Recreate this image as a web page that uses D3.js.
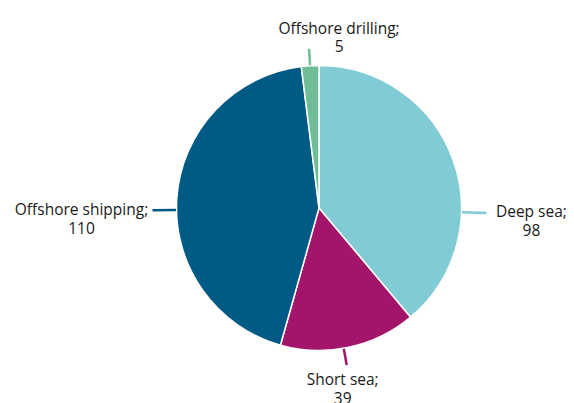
<!DOCTYPE html>
<html>
<head>
<meta charset="utf-8">
<script src="https://cdn.jsdelivr.net/npm/d3@7"></script>
<style>
  html, body { margin: 0; padding: 0; background: #fff; }
  svg { display: block; }
  text { font-family: "Open Sans", "Noto Sans", sans-serif; fill: #1a1a1a; }
</style>
</head>
<body>
<svg id="chart" width="574" height="403"></svg>
<script>
// Segments of the fleet, clockwise from 12 o'clock
const categories = ["Deep sea", "Short sea", "Offshore shipping", "Offshore drilling"];
const values = [98, 39, 110, 5];
const colors = ["#80CBD4", "#A3156B", "#005A86", "#6FBD96"];

// Label layout: angle (degrees from top) where the leader leaves the pie,
// leader length, and text offset from the leader end.
const labelAngle = [91.7, 170, 269.2, null];
const leaderLen = [25, 17, 24, 17];
const labelDx = [45, -4, -71, 30];
const labelDy = [4.5, 20, 5, -15];

const width = 574, height = 403;
const cx = 319, cy = 208, radius = 142.5;

const svg = d3.select("#chart");
const g = svg.append("g").attr("transform", `translate(${cx},${cy})`);

const data = categories.map((c, i) => ({ name: c, value: values[i], color: colors[i], i }));

const pie = d3.pie().value(d => d.value).sort(null);
const arc = d3.arc().innerRadius(0).outerRadius(radius);
const arcs = pie(data);

g.selectAll("path.slice")
  .data(arcs)
  .join("path")
  .attr("class", "slice")
  .attr("d", arc)
  .attr("fill", d => d.data.color)
  .attr("stroke", "#fff")
  .attr("stroke-width", 1.5);

// Leader lines and labels
arcs.forEach(d => {
  const i = d.data.i;
  const a = labelAngle[i] != null ? labelAngle[i] * Math.PI / 180 : (d.startAngle + d.endAngle) / 2;
  const sx = Math.sin(a), sy = -Math.cos(a);
  const r0 = radius + 0.5, r1 = radius + leaderLen[i];
  const x1 = sx * r1, y1 = sy * r1;
  g.append("line")
    .attr("x1", sx * r0).attr("y1", sy * r0)
    .attr("x2", x1).attr("y2", y1)
    .attr("stroke", d.data.color)
    .attr("stroke-width", 2.5);
  const t = g.append("text")
    .attr("text-anchor", "middle")
    .attr("font-size", 15.5)
    .attr("transform", `translate(${x1 + labelDx[i]},${y1 + labelDy[i]})`);
  t.append("tspan").attr("x", 0).attr("y", 0).text(d.data.name + ";");
  t.append("tspan").attr("x", 0).attr("y", 18.5).text(d3.format("d")(d.data.value));
});
</script>
</body>
</html>
